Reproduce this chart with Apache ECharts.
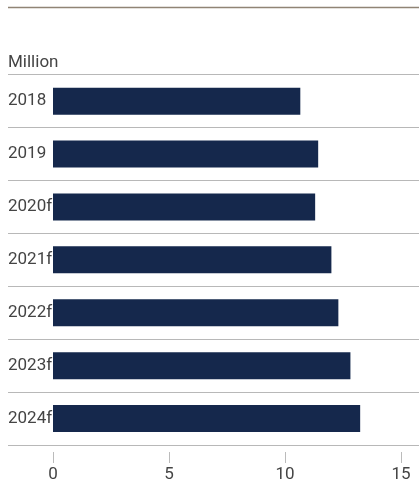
<!DOCTYPE html>
<html>
<head>
<meta charset="utf-8">
<script src="https://cdn.jsdelivr.net/npm/echarts@6/dist/echarts.min.js"></script>
<style>
html,body{margin:0;padding:0;background:#fff;}
#chart{width:419px;height:483px;}
</style>
</head>
<body>
<div id="chart"></div>
<script>
var categories = ['2018', '2019', '2020f', '2021f', '2022f', '2023f', '2024f'];
var values = [10.66, 11.43, 11.3, 12.0, 12.3, 12.82, 13.24];
var xTicks = [0, 5, 10, 15];
var unitLabel = 'Million';

var chart = echarts.init(document.getElementById('chart'), null, {renderer: 'canvas'});
var font = 'Roboto, sans-serif';
chart.setOption({
  animation: false,
  backgroundColor: '#fff',
  title: {
    text: unitLabel, left: 8, top: 54, padding: 0,
    textStyle: {fontFamily: font, fontSize: 17, fontWeight: 'normal', color: '#444'}
  },
  graphic: [{
    type: 'line', shape: {x1: 8, y1: 7.5, x2: 419, y2: 7.5},
    style: {stroke: '#908475', lineWidth: 1.5}, silent: true
  }],
  grid: [
    {left: 53, right: 18, top: 74.7, bottom: 38, containLabel: false},
    {left: 8, right: 0, top: 74.7, bottom: 38, containLabel: false}
  ],
  xAxis: [{
    gridIndex: 0, type: 'value', min: xTicks[0], max: xTicks[xTicks.length - 1], interval: 5,
    offset: 7,
    axisLine: {show: false},
    axisTick: {show: true, length: 11, lineStyle: {color: '#bbb', width: 1}},
    splitLine: {show: false},
    axisLabel: {margin: 14, fontFamily: font, fontSize: 17, color: '#444'}
  }, {
    gridIndex: 1, type: 'value', show: false, min: 0, max: 1
  }],
  yAxis: [{
    gridIndex: 0, type: 'category', data: categories, inverse: true,
    axisLine: {show: false}, axisTick: {show: false}, splitLine: {show: false},
    axisLabel: {align: 'left', margin: 45, fontFamily: font, fontSize: 17, color: '#444'}
  }, {
    gridIndex: 1, type: 'category', data: categories, inverse: true,
    axisLine: {show: false}, axisTick: {show: false}, axisLabel: {show: false},
    splitLine: {show: true, showMinLine: true, showMaxLine: true, lineStyle: {color: '#b8b8b8', width: 1.2}}
  }],
  series: [{
    type: 'bar', xAxisIndex: 0, yAxisIndex: 0, data: values,
    barWidth: '51%', itemStyle: {color: '#15284c'}, silent: true
  }]
});
</script>
</body>
</html>
